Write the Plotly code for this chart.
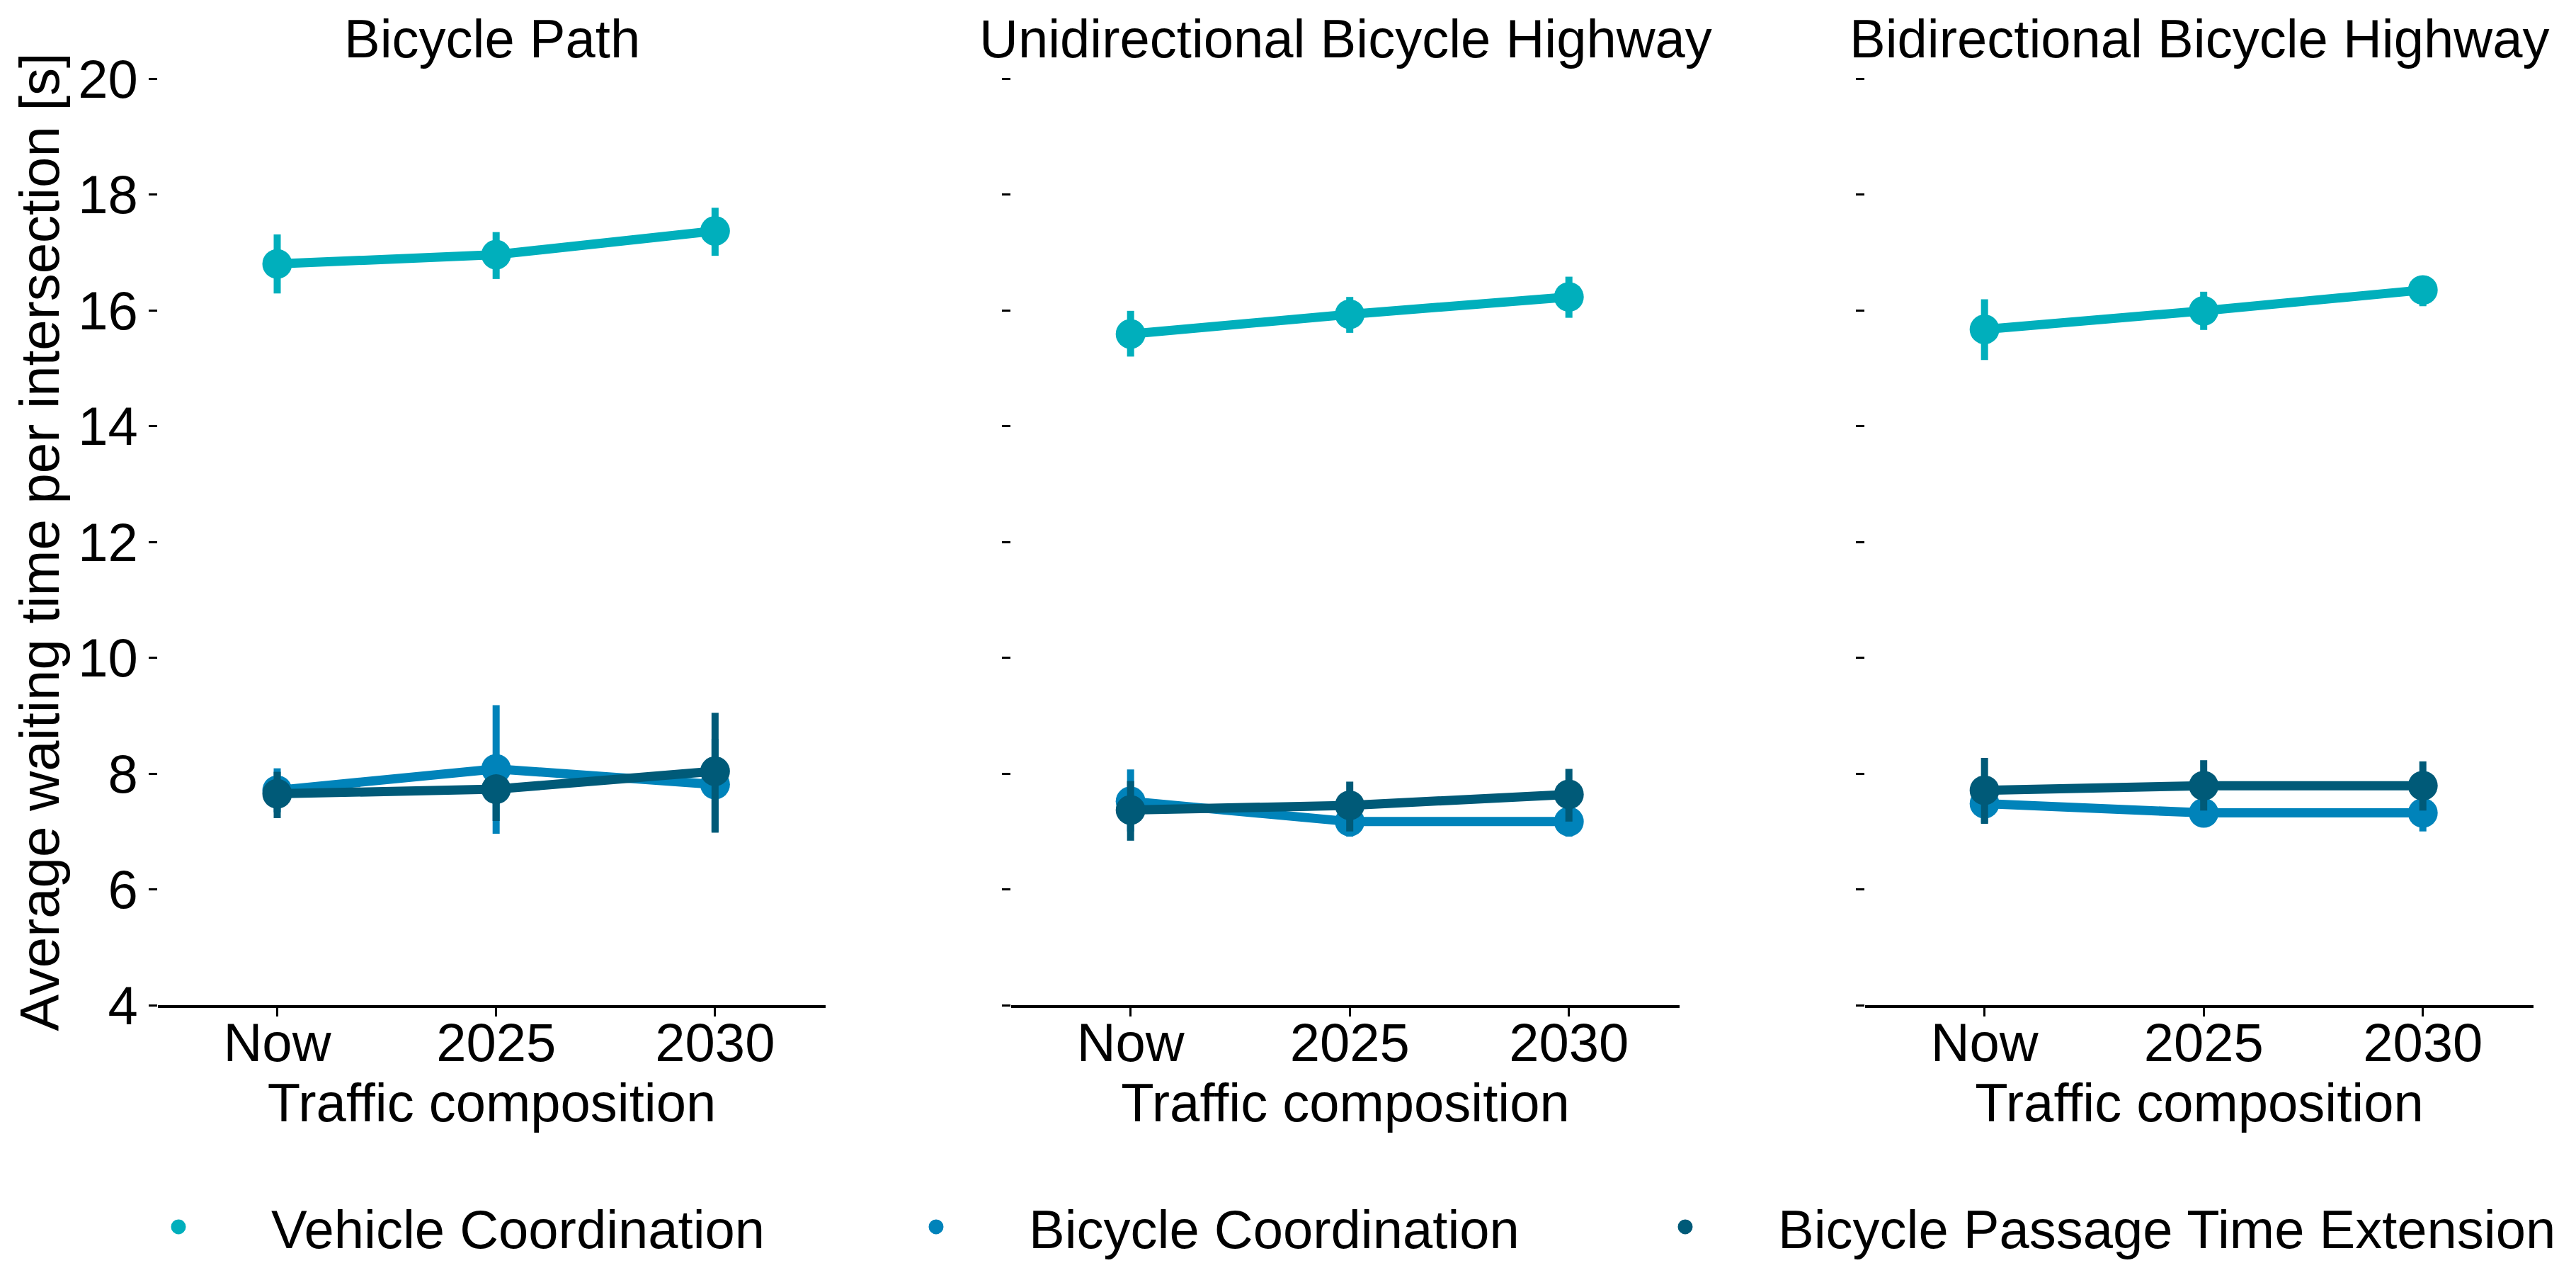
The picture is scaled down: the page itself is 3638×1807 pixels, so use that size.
import plotly.graph_objects as go

categories = ["Now", "2025", "2030"]
panels = ["Bicycle Path", "Unidirectional Bicycle Highway", "Bidirectional Bicycle Highway"]
series_names = ["Vehicle Coordination", "Bicycle Coordination", "Bicycle Passage Time Extension"]
series_colors = ["#00AFBC", "#0083BA", "#005A78"]

# mean values per panel (rows) and category (cols)
vehicle_mean = [[16.80, 16.96, 17.37], [15.59, 15.93, 16.23], [15.67, 15.99, 16.35]]
vehicle_lo = [[16.29, 16.54, 16.94], [15.20, 15.61, 15.87], [15.14, 15.66, 16.07]]
vehicle_hi = [[17.31, 17.35, 17.77], [15.99, 16.23, 16.58], [16.19, 16.32, 16.60]]

bike_mean = [[7.71, 8.08, 7.81], [7.52, 7.17, 7.17], [7.48, 7.32, 7.32]]
bike_lo = [[7.33, 6.96, 7.00], [7.00, 6.91, 6.91], [7.15, 7.09, 7.00]]
bike_hi = [[8.09, 9.18, 8.60], [8.07, 7.43, 7.43], [7.80, 7.55, 7.64]]

ext_mean = [[7.65, 7.73, 8.04], [7.37, 7.45, 7.64], [7.71, 7.79, 7.79]]
ext_lo = [[7.23, 7.18, 6.98], [6.84, 7.00, 7.17], [7.13, 7.36, 7.36]]
ext_hi = [[8.03, 7.92, 9.05], [7.87, 7.86, 8.08], [8.27, 8.23, 8.21]]

y_ticks = [4, 6, 8, 10, 12, 14, 16, 18, 20]

W, H = 3638, 1807
FONT = "Liberation Sans, Arial, sans-serif"
FS = 76

series = [
    (vehicle_mean, vehicle_lo, vehicle_hi),
    (bike_mean, bike_lo, bike_hi),
    (ext_mean, ext_lo, ext_hi),
]

# panel pixel extents (left, right)
px_ext = [(215, 1158), (1420, 2364), (2626, 3570)]
y_top, y_bot = 103, 1411

fig = go.Figure()
for p in range(3):
    xa = "x" if p == 0 else f"x{p+1}"
    ya = "y" if p == 0 else f"y{p+1}"
    for s, (m, lo, hi) in enumerate(series):
        mean = m[p]
        plus = [h - v for h, v in zip(hi[p], mean)]
        minus = [v - l for l, v in zip(lo[p], mean)]
        fig.add_trace(go.Scatter(
            x=categories, y=mean, mode="lines+markers",
            line=dict(color=series_colors[s], width=13),
            marker=dict(color=series_colors[s], size=42),
            error_y=dict(type="data", symmetric=False, array=plus, arrayminus=minus,
                         color=series_colors[s], thickness=10, width=0),
            xaxis=xa, yaxis=ya, showlegend=False, name=series_names[s],
        ))

# legend entries (markers only), one legend per entry for exact placement
legend_marker_x = [248, 1318, 2376]
ITEMW = 252
legend_names = ["legend", "legend2", "legend3"]
for s in range(3):
    fig.add_trace(go.Scatter(
        x=[None], y=[None], mode="markers", name=series_names[s],
        marker=dict(color=series_colors[s], size=16, line=dict(color=series_colors[s], width=5)),
        showlegend=True, legend=legend_names[s],
    ))

layout = dict(
    width=W, height=H,
    margin=dict(l=0, r=0, t=0, b=0),
    paper_bgcolor="white", plot_bgcolor="white",
    font=dict(family=FONT, size=FS, color="black"),
    annotations=[],
)
for s in range(3):
    layout[legend_names[s]] = dict(
        orientation="h", x=(legend_marker_x[s] - 135) / W, xanchor="left",
        y=1 - 1724 / H, yanchor="middle",
        font=dict(size=FS), itemwidth=ITEMW, bgcolor="rgba(0,0,0,0)",
    )

for p in range(3):
    l, r = px_ext[p]
    suffix = "" if p == 0 else str(p + 1)
    layout["xaxis" + suffix] = dict(
        domain=[l / W, r / W], anchor="y" + suffix, type="category",
        range=[-0.545, 2.505],
        showline=True, linecolor="black", linewidth=4,
        ticks="outside", ticklen=12, tickwidth=3, tickcolor="black",
        showgrid=False, zeroline=False,
        tickfont=dict(size=FS), ticklabelstandoff=-28,
        title=dict(text="Traffic composition", font=dict(size=FS), standoff=3),
        automargin=False,
    )
    layout["yaxis" + suffix] = dict(
        domain=[1 - y_bot / H, 1 - y_top / H], anchor="x" + suffix,
        range=[4, 20], tickvals=y_ticks,
        showticklabels=(p == 0),
        showline=False, showgrid=False, zeroline=False,
        ticks="outside", ticklen=12, tickwidth=3, tickcolor="black",
        tickfont=dict(size=FS),
        title=dict(text="Average waiting time per intersection [s]" if p == 0 else "",
                   font=dict(size=78), standoff=0),
        automargin=False,
    )
    layout["annotations"].append(dict(
        text=panels[p], xref="paper", yref="paper",
        x=(l + r) / 2 / W, y=1 - 46 / H, xanchor="center", yanchor="middle",
        showarrow=False, font=dict(size=FS),
    ))

fig.update_layout(**layout)
fig.write_html("out.html")
